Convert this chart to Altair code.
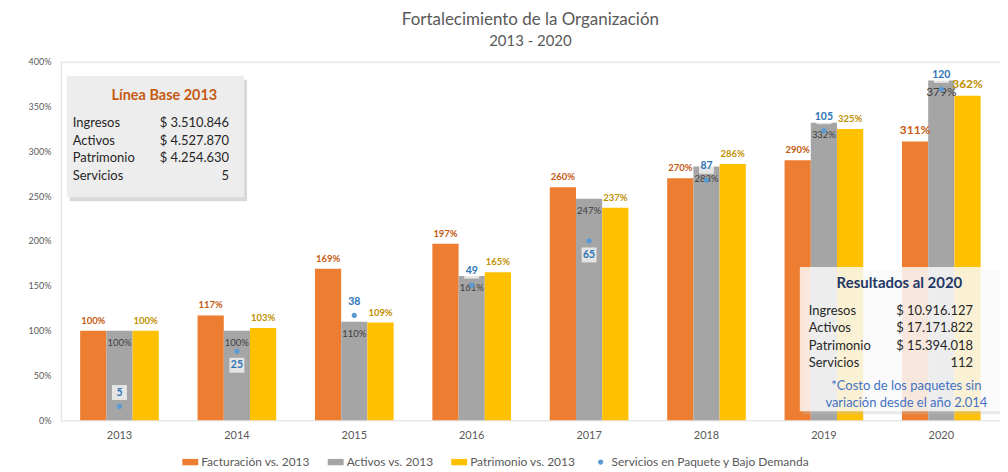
import altair as alt
import pandas as pd

# ---------------- data ----------------
anios = ["2013", "2014", "2015", "2016", "2017", "2018", "2019", "2020"]
facturacion = [100, 117, 169, 197, 260, 270, 290, 311]
activos = [100, 100, 110, 161, 247, 283, 332, 379]
patrimonio = [100, 103, 109, 165, 237, 286, 325, 362]
servicios = [5, 25, 38, 49, 65, 87, 105, 120]
serv_debajo = ["2014", "2017"]  # years whose service label sits below the dot

series = ["Facturación vs. 2013", "Activos vs. 2013", "Patrimonio vs. 2013"]
serie_serv = "Servicios en Paquete y Bajo Demanda"
y_ticks = list(range(0, 401, 25))

titulo = "Fortalecimiento de la Organización"
subtitulo = "2013 - 2020"

base_titulo = "Línea Base 2013"
base_labels = ["Ingresos", "Activos", "Patrimonio", "Servicios"]
base_values = ["$ 3.510.846", "$ 4.527.870", "$ 4.254.630", "5"]

res_titulo = "Resultados al 2020"
res_labels = ["Ingresos", "Activos", "Patrimonio", "Servicios"]
res_values = ["$ 10.916.127", "$ 17.171.822", "$ 15.394.018", "112"]
nota = ["*Costo de los paquetes sin", "variación desde el año 2.014"]

# ---------------- styles ----------------
FONT = "Lato"
colores = ["#ED7D31", "#A5A5A5", "#FFC000", "#5B9BD5"]
label_colores = ["#C55A11", "#404040", "#BF9000"]
RECT = "M-1,-0.4H1V0.4H-1Z"
DOT = "M0.33,0A0.33,0.33 0 1,1 -0.33,0A0.33,0.33 0 1,1 0.33,0Z"

rows = []
for serie, vals in zip(series, [facturacion, activos, patrimonio]):
    for a, v in zip(anios, vals):
        rows.append({"anio": a, "serie": serie, "valor": v})
df_bars = pd.DataFrame(rows)
df_serv = pd.DataFrame({"anio": anios, "servicios": servicios, "serie": serie_serv})

legend = alt.Legend(
    title=None, orient="none", legendX=122, legendY=394, direction="horizontal",
    labelFontSize=12, labelColor="#595959", labelFont=FONT, symbolSize=256,
    columnPadding=17, labelOffset=3, symbolStrokeWidth=0, labelLimit=0,
)
dom_all = series + [serie_serv]
color = alt.Color("serie:N", scale=alt.Scale(domain=dom_all, range=colores), legend=legend)
shape = alt.Shape("serie:N", scale=alt.Scale(domain=dom_all, range=[RECT, RECT, RECT, DOT]), legend=legend)

x = alt.X(
    "anio:N", sort=anios, title=None,
    scale=alt.Scale(paddingInner=0.33, paddingOuter=0.165),
    axis=alt.Axis(labelFontSize=11, labelColor="#595959", labelFont=FONT, domain=False,
                  ticks=False, labelPadding=9, labelAngle=0, grid=False),
)
xoff = alt.XOffset("serie:N", sort=series, scale=alt.Scale(domain=series, paddingInner=0, paddingOuter=0))
y_pct = alt.Y(
    "valor:Q", title=None, scale=alt.Scale(domain=[0, 400]),
    axis=alt.Axis(values=y_ticks, labelExpr="datum.value + '%'", grid=False, domain=False,
                  ticks=False, labelFontSize=9, labelColor="#595959", labelFont=FONT,
                  labelPadding=10),
)

bars = alt.Chart(df_bars).mark_bar().encode(x=x, xOffset=xoff, y=y_pct, color=color)

label_layers = []
for i, serie in enumerate(series):
    inside = i == 1
    t = (
        alt.Chart(df_bars)
        .transform_filter(alt.datum.serie == serie)
        .transform_calculate(lab="datum.valor + '%'")
        .mark_text(
            font=FONT, color=label_colores[i],
            fontWeight="normal" if inside else "bold",
            baseline="top" if inside else "bottom",
            dy=7 if inside else -5,
        )
        .encode(
            x=x, xOffset=xoff, y=alt.Y("valor:Q"), text="lab:N",
            size=alt.condition("datum.anio == '2020'", alt.value(12), alt.value(9.5)),
        )
    )
    label_layers.append(t)

pct = alt.layer(bars, *label_layers)

y_serv = alt.Y("servicios:Q", scale=alt.Scale(domain=[0, 130]), axis=None)
serv_base = alt.Chart(df_serv)
above = alt.FieldOneOfPredicate(field="anio", oneOf=serv_debajo)

box_up = serv_base.transform_filter(~above).mark_square(
    size=225, color="white", opacity=0.7, yOffset=-14
).encode(x=x, y=y_serv)
box_dn = serv_base.transform_filter(above).mark_square(
    size=225, color="white", opacity=0.7, yOffset=14
).encode(x=x, y=y_serv)
points = serv_base.mark_point(filled=True, size=256, opacity=1, strokeWidth=0).encode(
    x=x, y=y_serv, color=color, shape=shape
)
txt_up = serv_base.transform_filter(~above).mark_text(
    font=FONT, color="#2E75B6", fontWeight="bold", fontSize=10.5, dy=-14
).encode(x=x, y=y_serv, text="servicios:Q")
txt_dn = serv_base.transform_filter(above).mark_text(
    font=FONT, color="#2E75B6", fontWeight="bold", fontSize=10.5, dy=14
).encode(x=x, y=y_serv, text="servicios:Q")

serv = alt.layer(box_up, box_dn, points, txt_up, txt_dn)

one = pd.DataFrame({"k": [0]})


def rect(x1, x2, y1, y2, fill, opacity=1.0):
    return alt.Chart(one).mark_rect(color=fill, opacity=opacity).encode(
        x=alt.value(x1), x2=alt.value(x2), y=alt.value(y1), y2=alt.value(y2)
    )


def text(s, px, py, size=13, color="#262626", weight="normal", align="left"):
    return alt.Chart(one).mark_text(
        text=s, font=FONT, fontSize=size, color=color, fontWeight=weight, align=align,
        baseline="middle",
    ).encode(x=alt.value(px), y=alt.value(py))


ann = [
    # left box
    rect(9, 187, 18, 140, "#BFBFBF", 0.6),
    rect(6, 184, 14, 136, "#EDEDED"),
    text(base_titulo, 104, 34, 14.5, "#C55A11", "bold", "center"),
]
for i, (l, v) in enumerate(zip(base_labels, base_values)):
    ann.append(text(l, 12, 62 + i * 17.5))
    ann.append(text(v, 169, 62 + i * 17.5, align="right"))
ann += [
    rect(745, 946, 209, 354, "#BFBFBF", 0.35),
    rect(742, 943, 206, 351, "#FFFFFF", 0.78),
    text(res_titulo, 842, 222, 15, "#1F3864", "bold", "center"),
]
for i, (l, v) in enumerate(zip(res_labels, res_values)):
    ann.append(text(l, 751, 250 + i * 17.5))
    ann.append(text(v, 916, 250 + i * 17.5, align="right"))
for i, n in enumerate(nota):
    ann.append(text(n, 849, 326 + i * 16.5, 13, "#4472C4", "normal", "center"))

chart = (
    alt.layer(pct, serv, *ann)
    .resolve_scale(y="independent")
    .properties(
        width=943, height=360,
        title=alt.TitleParams(
            titulo, subtitle=subtitulo, fontSize=17, subtitleFontSize=15,
            color="#595959", subtitleColor="#595959", font=FONT, subtitleFont=FONT,
            fontWeight="normal", anchor="middle", offset=8, subtitlePadding=5,
        ),
        autosize=alt.AutoSizeParams(type="none"),
        padding={"left": 53, "top": 53, "right": 0, "bottom": 47},
    )
    .configure_view(stroke=None)
    .configure(background="white")
)

chart.save("out.html", embed_options={"renderer": "svg", "actions": False})
